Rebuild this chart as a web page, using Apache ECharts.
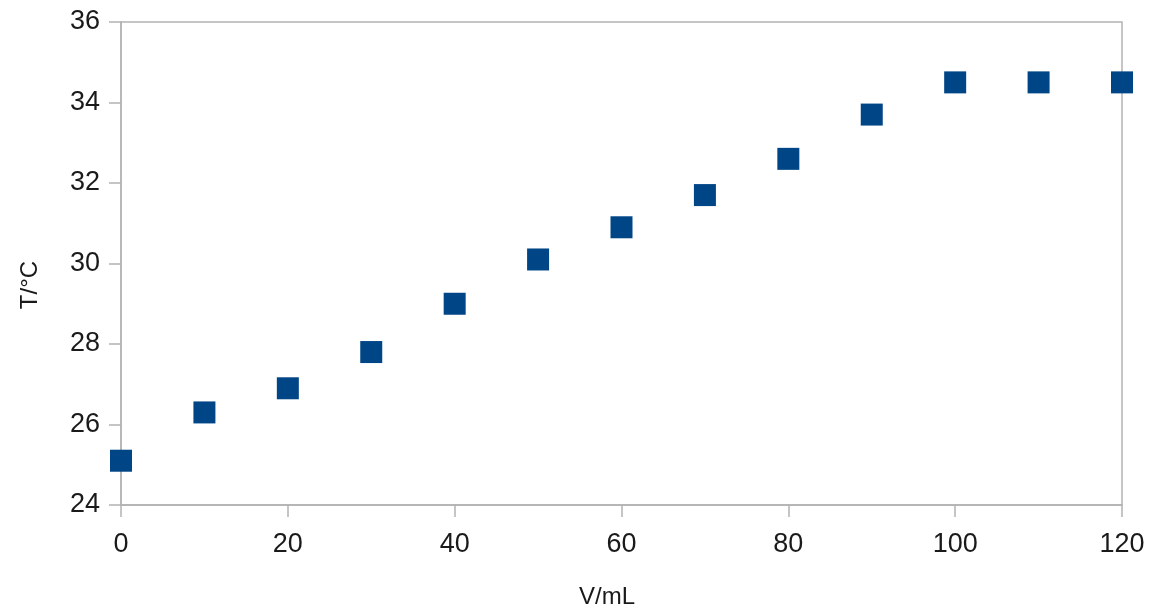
<!DOCTYPE html>
<html>
<head>
<meta charset="utf-8">
<script src="https://cdn.jsdelivr.net/npm/echarts@6/dist/echarts.min.js"></script>
<style>html,body{margin:0;padding:0;background:#fff;}#c{width:1155px;height:615px;}</style>
</head>
<body>
<div id="c"></div>
<script>
const volumes = [0, 10, 20, 30, 40, 50, 60, 70, 80, 90, 100, 110, 120];
const temps = [25.1, 26.3, 26.9, 27.8, 29.0, 30.1, 30.9, 31.7, 32.6, 33.7, 34.5, 34.5, 34.5];
const xName = 'V/mL';
const yName = 'T/°C';

const chart = echarts.init(document.getElementById('c'));
const font = 'Liberation Sans, Arial, sans-serif';
const axisLineStyle = { color: '#b3b3b3', width: 1.5 };
chart.setOption({
  animation: false,
  grid: { left: 121, right: 33, top: 22, bottom: 110, show: true, borderColor: '#b3b3b3', borderWidth: 1.5, containLabel: false },
  xAxis: {
    type: 'value', min: 0, max: 120, interval: 20,
    axisLine: { show: true, lineStyle: axisLineStyle },
    axisTick: { show: true, inside: false, length: 12, lineStyle: axisLineStyle },
    splitLine: { show: false },
    axisLabel: { margin: 26, fontSize: 27, color: '#1a1a1a', fontFamily: font }
  },
  yAxis: {
    type: 'value', min: 24, max: 36, interval: 2,
    axisLine: { show: true, lineStyle: axisLineStyle },
    axisTick: { show: true, inside: false, length: 12, lineStyle: axisLineStyle },
    splitLine: { show: false },
    axisLabel: { margin: 21, fontSize: 27, color: '#1a1a1a', fontFamily: font }
  },
  graphic: [
    { type: 'text', x: 607, y: 597, style: { text: xName, fontSize: 24, fill: '#1a1a1a', fontFamily: font, align: 'center', verticalAlign: 'middle' } },
    { type: 'text', x: 30, y: 285, rotation: Math.PI / 2, style: { text: yName, fontSize: 24, fill: '#1a1a1a', fontFamily: font, align: 'center', verticalAlign: 'middle' } }
  ],
  series: [{
    type: 'scatter',
    data: volumes.map((v, i) => [v, temps[i]]),
    symbol: 'rect',
    symbolSize: 22,
    itemStyle: { color: '#004586', opacity: 1 },
    clip: false
  }]
});
</script>
</body>
</html>
